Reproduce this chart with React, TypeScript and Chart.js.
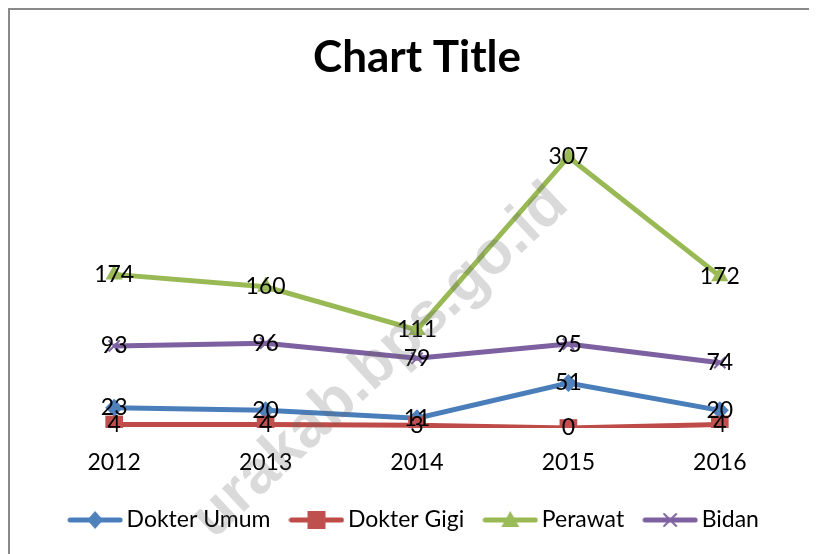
import React, { useEffect, useRef } from "react";
import { Chart, registerables } from "chart.js";

Chart.register(...registerables);

const years = ["2012", "2013", "2014", "2015", "2016"];
const dokterUmum = [23, 20, 11, 51, 20];
const dokterGigi = [4, 4, 3, 0, 4];
const perawat = [174, 160, 111, 307, 172];
const bidan = [93, 96, 79, 95, 74];
const seriesNames = ["Dokter Umum", "Dokter Gigi", "Perawat", "Bidan"];
const yMin = 0;
const yMax = 350;
const chartTitle = "Chart Title";
const watermark = "urakab.bps.go.id";

const FONT = "Lato, 'Open Sans', sans-serif";
const COLORS = ["#4A7EBB", "#BE4B48", "#98B954", "#7D60A0"];
const FILLS = ["#4F81BD", "#C0504D", "#9BBB59", "#8064A2"];

function drawMarker(ctx: CanvasRenderingContext2D, style: string, x: number, y: number, color: string) {
  ctx.save();
  ctx.fillStyle = color;
  ctx.strokeStyle = color;
  ctx.beginPath();
  if (style === "diamond") {
    ctx.moveTo(x, y - 9);
    ctx.lineTo(x + 8, y);
    ctx.lineTo(x, y + 9);
    ctx.lineTo(x - 8, y);
    ctx.closePath();
    ctx.fill();
  } else if (style === "square") {
    ctx.rect(x - 9, y - 9, 18, 18);
    ctx.fill();
  } else if (style === "triangle") {
    ctx.moveTo(x, y - 9);
    ctx.lineTo(x + 9, y + 7);
    ctx.lineTo(x - 9, y + 7);
    ctx.closePath();
    ctx.fill();
  } else {
    ctx.lineWidth = 2;
    ctx.moveTo(x - 6, y - 6);
    ctx.lineTo(x + 6, y + 6);
    ctx.moveTo(x + 6, y - 6);
    ctx.lineTo(x - 6, y + 6);
    ctx.stroke();
  }
  ctx.restore();
}

function legendIcon(color: string, fill: string, style: string) {
  const c = document.createElement("canvas");
  c.width = 56;
  c.height = 26;
  const ctx = c.getContext("2d")!;
  ctx.strokeStyle = color;
  ctx.lineWidth = 5;
  ctx.lineCap = "round";
  ctx.beginPath();
  ctx.moveTo(3, 13);
  ctx.lineTo(53, 13);
  ctx.stroke();
  drawMarker(ctx, style, 28, 13, fill);
  return c;
}

const dataLabelsPlugin = {
  id: "dataLabels",
  afterDatasetsDraw(chart: any) {
    const ctx = chart.ctx;
    ctx.save();
    ctx.font = `23px ${FONT}`;
    ctx.fillStyle = "#000";
    ctx.textAlign = "center";
    ctx.textBaseline = "middle";
    chart.data.datasets.forEach((ds: any, i: number) => {
      const meta = chart.getDatasetMeta(i);
      meta.data.forEach((pt: any, j: number) => {
        ctx.fillText(String(ds.data[j]), pt.x, pt.y);
      });
    });
    ctx.restore();
  },
};

const framePlugin = {
  id: "frame",
  afterDraw(chart: any) {
    const ctx = chart.ctx;
    ctx.save();
    // watermark
    ctx.translate(551, 187);
    ctx.rotate((-43 * Math.PI) / 180);
    ctx.font = `bold 61px 'Liberation Sans', Arial, sans-serif`;
    ctx.fillStyle = "rgba(100,100,100,0.24)";
    ctx.textAlign = "right";
    ctx.textBaseline = "middle";
    ctx.fillText(watermark, 0, 0);
    ctx.restore();
    ctx.save();
    ctx.strokeStyle = "#8a8a8a";
    ctx.lineWidth = 2;
    ctx.beginPath();
    ctx.moveTo(1, chart.height);
    ctx.lineTo(1, 1);
    ctx.lineTo(chart.width, 1);
    ctx.stroke();
    ctx.restore();
  },
};

export default function App() {
  const ref = useRef<HTMLCanvasElement>(null);
  useEffect(() => {
    const styles = ["diamond", "square", "triangle", "cross"];
    const values = [dokterUmum, dokterGigi, perawat, bidan];
    const pointStyles = ["rectRot", "rect", "triangle", "crossRot"];
    const radii = [9, 12.5, 10, 8];
    const chart = new Chart(ref.current!, {
      type: "line",
      data: {
        labels: years,
        datasets: values.map((v, i) => ({
          label: seriesNames[i],
          data: v,
          borderColor: COLORS[i],
          backgroundColor: FILLS[i],
          borderWidth: 5,
          pointStyle: pointStyles[i] as any,
          pointRadius: radii[i],
          pointBackgroundColor: FILLS[i],
          pointBorderColor: FILLS[i],
          pointBorderWidth: i === 3 ? 2 : 0,
          tension: 0,
          order: 4 - i,
        })),
      },
      options: {
        animation: false,
        responsive: false,
        maintainAspectRatio: false,
        layout: { padding: { left: 30.5, right: 21.5, top: 0, bottom: 12.5 } },
        plugins: {
          title: {
            display: true,
            text: chartTitle,
            color: "#000",
            font: { family: FONT, size: 44, weight: "bold" },
            padding: { top: 23.6, bottom: 34.6 },
          },
          legend: {
            position: "bottom",
            labels: {
              usePointStyle: true,
              pointStyleWidth: 40,
              color: "#000",
              font: { family: FONT, size: 23 },
              padding: 26,
              generateLabels: (ch: any) =>
                ch.data.datasets.map((ds: any, i: number) => ({
                  text: ds.label,
                  pointStyle: legendIcon(COLORS[i], FILLS[i], styles[i]),
                  fillStyle: FILLS[i],
                  strokeStyle: COLORS[i],
                  lineWidth: 0,
                  fontColor: "#000",
                  hidden: false,
                  datasetIndex: i,
                })),
            },
          },
          tooltip: { enabled: false },
        },
        scales: {
          x: {
            offset: true,
            grid: { display: false, drawTicks: false },
            border: { display: false },
            ticks: { color: "#000", font: { family: FONT, size: 23 }, padding: 21 },
            afterFit: (s: any) => {
              s.height = 54.5;
            },
          },
          y: { display: false, min: yMin, max: yMax },
        },
      },
      plugins: [dataLabelsPlugin, framePlugin],
    });
    return () => chart.destroy();
  }, []);
  return <canvas ref={ref} width={809} height={546} style={{ display: "block" }} />;
}
